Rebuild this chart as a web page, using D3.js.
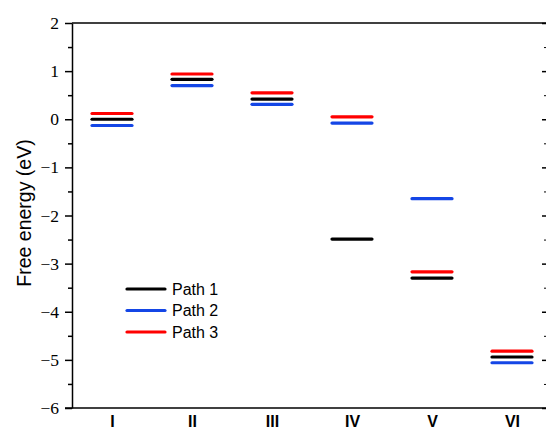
<!DOCTYPE html>
<html><head><meta charset="utf-8">
<script src="https://cdn.jsdelivr.net/npm/d3@7"></script>
<style>body{margin:0;background:#fff}svg{display:block}</style>
</head><body>
<script>
const categories = ["I","II","III","IV","V","VI"];
const path1 = [0.00, 0.83, 0.42, -2.49, -3.30, -4.94];
const path2 = [-0.13, 0.70, 0.31, -0.08, -1.65, -5.06];
const path3 = [0.12, 0.94, 0.55, 0.05, -3.17, -4.82];
const seriesNames = ["Path 1","Path 2","Path 3"];
const seriesColors = ["#000000","#1446e6","#ff0000"];
const yTicks = [-6,-5,-4,-3,-2,-1,0,1,2];
const yMinor = [-5.5,-4.5,-3.5,-2.5,-1.5,-0.5,0.5,1.5];

const W=546,H=432;
const L=72,R=547,T=23,B=408;
const svg=d3.select("body").append("svg").attr("width",W).attr("height",H);
const x=d3.scalePoint().domain(categories).range([112,512]);
const y=d3.scaleLinear().domain([-6,2]).range([B,T]);

// frame
svg.append("line").attr("x1",L).attr("x2",R).attr("y1",T).attr("y2",T).attr("stroke","#000").attr("stroke-width",1.5);
svg.append("line").attr("x1",65).attr("x2",R).attr("y1",B).attr("y2",B).attr("stroke","#000").attr("stroke-width",1.5);

// left axis
const gl=svg.append("g").attr("transform",`translate(${L},0)`)
  .call(d3.axisLeft(y).tickValues(yTicks).tickSize(7).tickSizeOuter(0).tickPadding(6));
gl.select(".domain").attr("stroke-width",1.5);
gl.selectAll(".tick line").attr("stroke-width",1.5);
gl.selectAll("text").attr("font-family","'Liberation Serif','Times New Roman',serif").attr("font-size",17.5).attr("fill","#000");
const glm=svg.append("g").attr("transform",`translate(${L},0)`)
  .call(d3.axisLeft(y).tickValues(yMinor).tickSize(4).tickFormat(""));
glm.select(".domain").remove();
glm.selectAll(".tick line").attr("stroke-width",1.5);

// right axis (inward ticks)
const gr=svg.append("g").attr("transform",`translate(${R},0)`)
  .call(d3.axisRight(y).tickValues(yTicks).tickSize(-5).tickFormat("").tickSizeOuter(0));
gr.selectAll(".tick line").attr("stroke-width",1.5);
const grm=svg.append("g").attr("transform",`translate(${R},0)`)
  .call(d3.axisRight(y).tickValues(yMinor).tickSize(-3).tickFormat(""));
grm.select(".domain").remove();

// x labels
const gx=svg.append("g").attr("transform",`translate(0,${B})`)
  .call(d3.axisBottom(x).tickSize(0).tickPadding(8));
gx.select(".domain").remove();
gx.selectAll("text").attr("font-family","'Liberation Sans',Arial,sans-serif").attr("font-size",16).attr("font-weight","bold").attr("fill","#000");

// y title
svg.append("text").attr("transform",`translate(31,213) rotate(-90)`).attr("text-anchor","middle")
  .attr("font-family","'Liberation Sans',Arial,sans-serif").attr("font-size",19.5).text("Free energy (eV)");

// levels
const series=[path1,path2,path3];
const hw=20;
series.forEach((vals,si)=>{
  svg.append("g").selectAll("line").data(vals).join("line")
    .attr("x1",(d,i)=>x(categories[i])-hw).attr("x2",(d,i)=>x(categories[i])+hw)
    .attr("y1",d=>y(d)).attr("y2",d=>y(d))
    .attr("stroke",seriesColors[si]).attr("stroke-width",3.2).attr("stroke-linecap","round");
});

// legend
const lg=svg.append("g");
seriesNames.forEach((n,i)=>{
  const yy=289+i*21.5;
  lg.append("line").attr("x1",127).attr("x2",165).attr("y1",yy).attr("y2",yy)
    .attr("stroke",seriesColors[i]).attr("stroke-width",3.2).attr("stroke-linecap","round");
  lg.append("text").attr("x",172).attr("y",yy+5.5).attr("font-family","'Liberation Sans',Arial,sans-serif")
    .attr("font-size",16).text(n);
});
</script>
</body></html>
